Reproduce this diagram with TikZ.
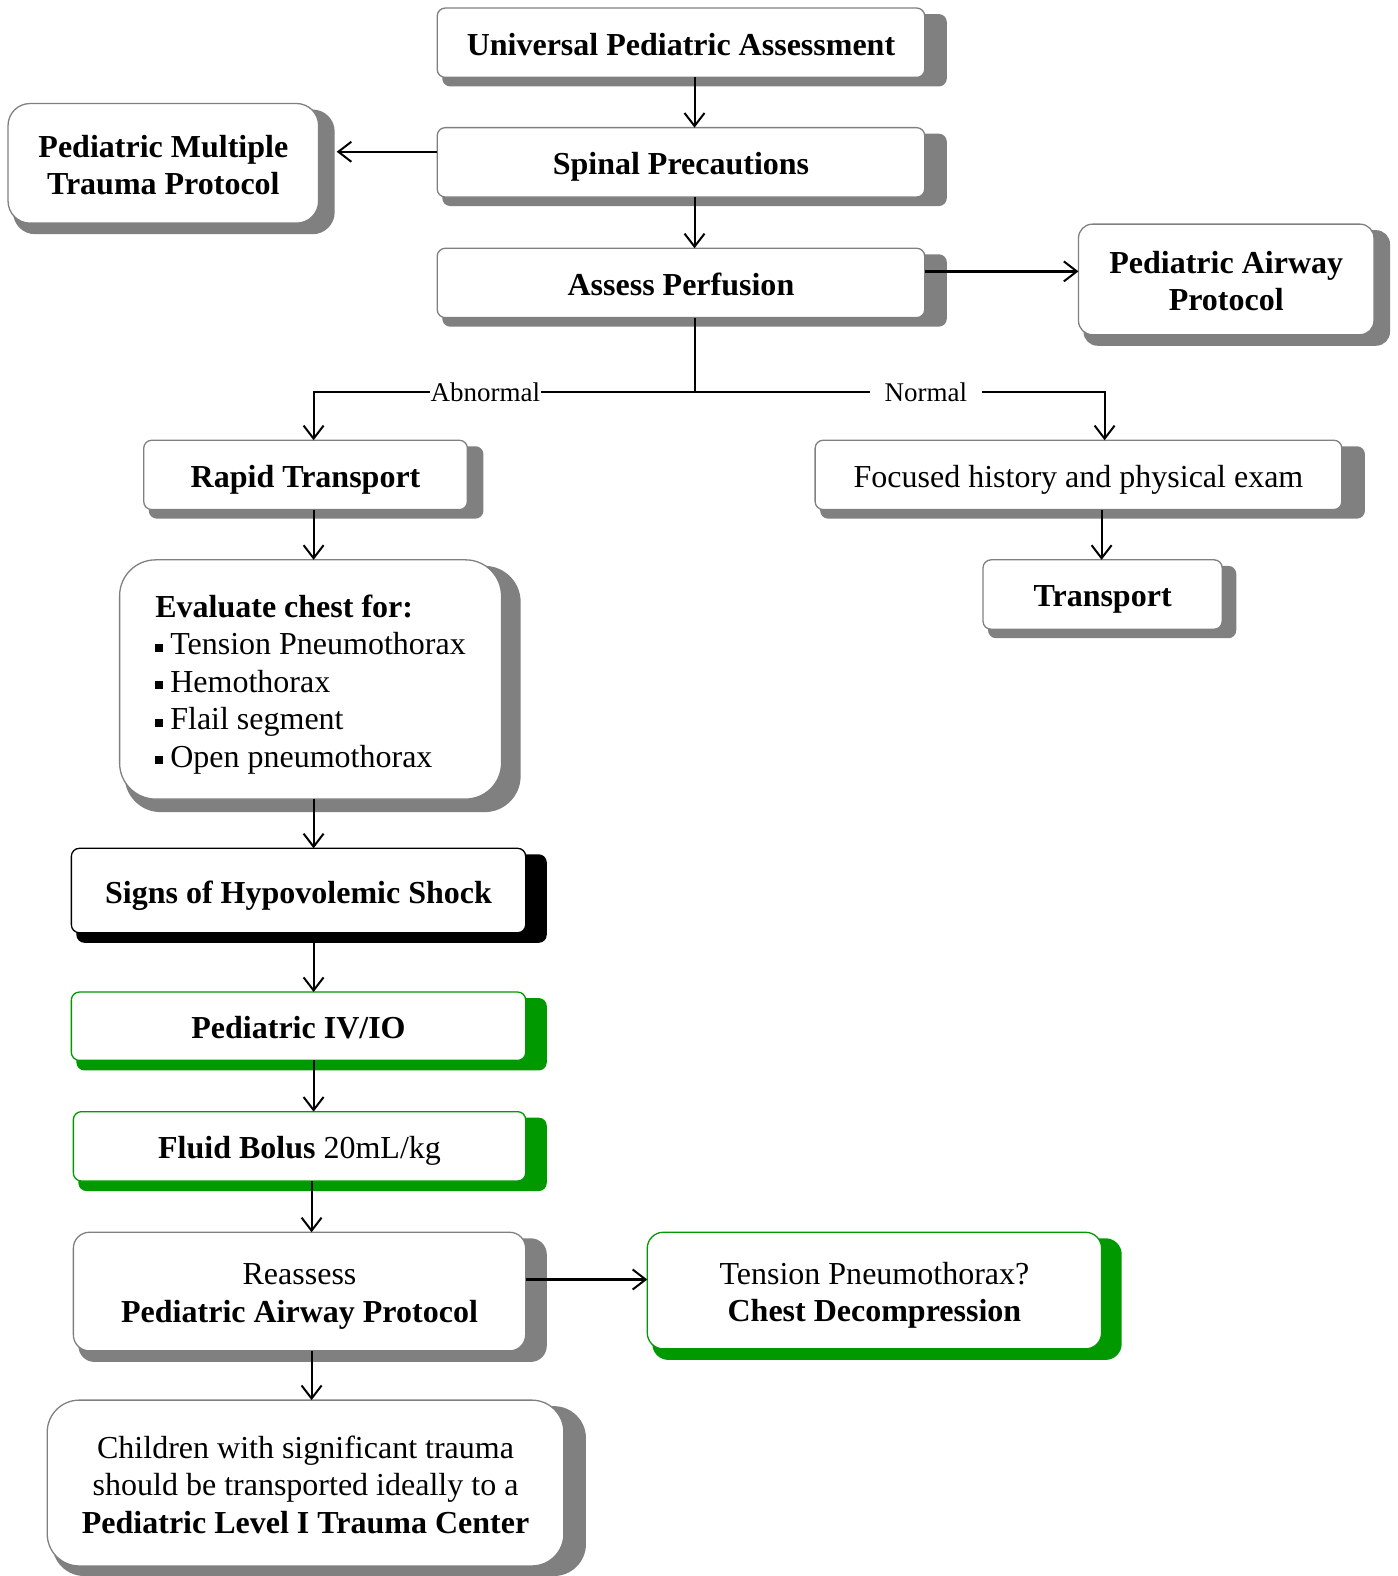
\documentclass[tikz,border=0pt]{standalone}
\usepackage{fontspec}
\setmainfont{Liberation Serif}
\usetikzlibrary{arrows.meta}
\definecolor{boxgray}{RGB}{128,128,128}
\definecolor{boxgreen}{RGB}{0,153,0}
\newcommand\boxfont{\fontsize{32}{37.5}\selectfont}
\newcommand\lblfont{\fontsize{27}{30}\selectfont}
\newcommand\sqbul{\rule[3pt]{8pt}{8pt}\hspace{7pt}}
% #1 name, #2 x0, #3 y0, #4 x1, #5 y1, #6 shadow x1, #7 shadow y1, #8 style, #9 text
\newcommand\flowbox[9]{%
  \pgfmathsetmacro\fbw{(#4-#2)*1.005}%
  \pgfmathsetmacro\fbh{(#5-#3)*1.005}%
  \path[#8, draw=none, fill=\shcolor] (#2+5,#3+6) rectangle (#6,#7);
  \node[#8, minimum width=\fbw pt, minimum height=\fbh pt] (#1) at ({(#2+#4)/2},{(#3+#5)/2}) {};
  \node[#8, txt, draw=none, fill=none] (#1-t) at ([yshift=-5pt]#1.center) {#9};
}
\begin{document}
\begin{tikzpicture}[x=1.005pt,y=-1.005pt,
  shcol/.store in=\shcolor, shcol=boxgray,
  base/.style={fill=white, line width=1.3pt, inner sep=0pt, outer sep=0pt, align=center, font=\boxfont, rounded corners=8pt},
  txt/.style={text depth=7pt},
  gbox/.style={base, draw=boxgray, shcol=boxgray},
  kbox/.style={base, draw=black, shcol=black},
  grbox/.style={base, draw=boxgreen, shcol=boxgreen},
  arr/.style={line width=2pt, -{Straight Barb[length=13pt,width=20pt,line width=2pt]}},
  thickarr/.style={arr, line width=2.6pt},
  conn/.style={line width=2pt},
  lbl/.style={fill=white, font=\lblfont, inner sep=1pt},
]
\useasboundingbox (0,0) rectangle (1390,1568);

\flowbox{UPA}{435}{8}{920}{77}{942}{86}{gbox}{\textbf{Universal Pediatric Assessment}}
\flowbox{SP}{435}{127}{920}{196}{942}{205}{gbox}{\textbf{Spinal Precautions}}
\flowbox{AP}{435}{247}{920}{316}{942}{325}{gbox}{\textbf{Assess Perfusion}}
\flowbox{PMTP}{8}{103}{317}{222}{333}{233}{gbox, rounded corners=22pt}{\textbf{Pediatric Multiple}\\\textbf{Trauma Protocol}}
\flowbox{PAP}{1073}{223}{1367}{333}{1383}{344}{gbox, rounded corners=14pt}{\textbf{Pediatric Airway}\\\textbf{Protocol}}
\flowbox{RT}{143}{438}{465}{507}{481}{516}{gbox}{\textbf{Rapid Transport}}
\flowbox{FH}{811}{438}{1335}{507}{1358}{516}{gbox}{Focused history and physical exam}
\flowbox{TR}{978}{557}{1216}{626}{1230}{635}{gbox}{\textbf{Transport}}
\flowbox{EV}{119}{557}{499}{795}{518}{808}{gbox, rounded corners=36pt, align=left}{\textbf{Evaluate chest for:}\\\sqbul Tension Pneumothorax\\\sqbul Hemothorax\\\sqbul Flail segment\\\sqbul Open pneumothorax}
\flowbox{SH}{71}{844}{523}{928}{544}{938}{kbox}{\textbf{Signs of Hypovolemic Shock}}
\flowbox{IV}{71}{987}{523}{1055}{544}{1065}{grbox}{\textbf{Pediatric IV/IO}}
\flowbox{FB}{73}{1106}{523}{1175}{544}{1185}{grbox}{\textbf{Fluid Bolus} 20mL/kg}
\flowbox{RA}{73}{1226}{523}{1344}{544}{1355}{gbox, rounded corners=16pt}{Reassess\\\textbf{Pediatric Airway Protocol}}
\flowbox{TP}{644}{1226}{1096}{1342}{1116}{1353}{grbox, rounded corners=16pt}{Tension Pneumothorax?\\\textbf{Chest Decompression}}
\flowbox{CH}{47}{1393}{561}{1558}{583}{1568}{gbox, rounded corners=32pt}{Children with significant trauma\\should be transported ideally to a\\\textbf{Pediatric Level I Trauma Center}}

\coordinate (colC) at (691,0);
\coordinate (colA) at (312,0);
\coordinate (colB) at (310,0);
\coordinate (colD) at (1096,0);
\coordinate (pmtpTip) at (335,151);
\coordinate (rowB) at (0,270);
\coordinate (rowC) at (0,1273);
\coordinate (split) at (691,390);
\coordinate (ax) at (312,390);
\coordinate (nx) at (1099,390);

\draw[arr] (UPA.south -| colC) -- (SP.north -| colC);
\draw[arr] (SP.south -| colC) -- (AP.north -| colC);
\draw[arr] (SP.west |- pmtpTip) -- (pmtpTip);
\draw[thickarr] (AP.east |- rowB) -- (PAP.west |- rowB);
\draw[conn] (AP.south -| colC) -- (split);
\draw[arr] (split) -- node[lbl, pos=0.549] {Abnormal} (ax) -- (ax |- RT.north);
\draw[arr] (split) -- node[lbl, pos=0.564, inner xsep=15pt] {Normal} (nx) -- (nx |- FH.north);
\draw[arr] (FH.south -| colD) -- (TR.north -| colD);
\draw[arr] (RT.south -| colA) -- (EV.north -| colA);
\draw[arr] (EV.south -| colA) -- (SH.north -| colA);
\draw[arr] (SH.south -| colA) -- (IV.north -| colA);
\draw[arr] (IV.south -| colA) -- (FB.north -| colA);
\draw[arr] (FB.south -| colB) -- (RA.north -| colB);
\draw[arr] (RA.south -| colB) -- (CH.north -| colB);
\draw[thickarr] (RA.east |- rowC) -- (TP.west |- rowC);
\end{tikzpicture}
\end{document}
